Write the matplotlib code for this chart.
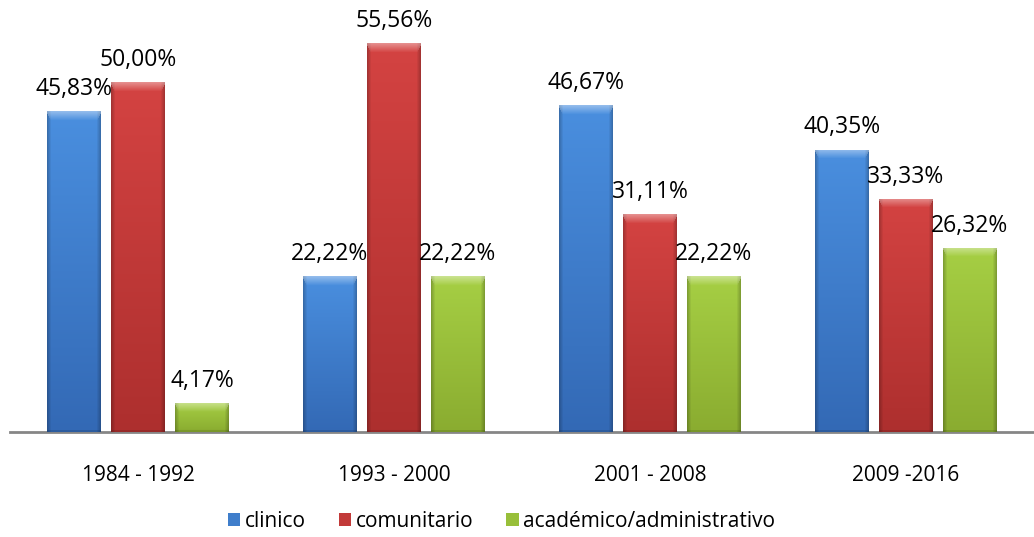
import numpy as np
import matplotlib.pyplot as plt
from matplotlib.colors import to_rgb

periodos = ['1984 - 1992', '1993 - 2000', '2001 - 2008', '2009 -2016']
series = ['clinico', 'comunitario', 'académico/administrativo']
clinico = [45.83, 22.22, 46.67, 40.35]
comunitario = [50.00, 55.56, 31.11, 33.33]
academico = [4.17, 22.22, 22.22, 26.32]
colores = ['#3f7ecb', '#c23a39', '#98bf3a']
arriba = ['#4a8fdf', '#d44342', '#a6cf44']
abajo = ['#3369b5', '#ad2f2e', '#8aac30']

plt.rcParams['font.family'] = ['Open Sans', 'DejaVu Sans']

fig = plt.figure(figsize=(10.34, 5.37), dpi=100)
ax = fig.add_axes([10 / 1034, 105 / 537, 1 - 10 / 1034, 420 / 537])

x = np.arange(len(periodos))
w = 0.21
paso = 0.25
px_por_unidad = 420 / 60


def biselar(ax, barras, c_arriba, c_abajo):
    ca = np.array(to_rgb(c_arriba))
    cb = np.array(to_rgb(c_abajo))
    for b in barras:
        x0, h, bw = b.get_x(), b.get_height(), b.get_width()
        ny = max(int(h * px_por_unidad), 2)
        nx = 54
        s = np.linspace(0, 1, ny)[:, None]
        img = (ca[None, :] * (1 - s) + cb[None, :] * s)[:, None, :] * np.ones((1, nx, 1))
        # bordes laterales mas oscuros
        t = np.linspace(-1, 1, nx)
        lado = 1 - 0.22 * np.clip((np.abs(t) - 0.85) / 0.15, 0, 1)
        img *= lado[None, :, None]
        # brillo superior en forma de trapecio
        top = min(9, ny // 2)
        for i in range(top):
            f = 0.4 * (1 - i / top)
            borde = int(nx * 0.08 * i / max(top, 1))
            img[i, borde:nx - borde] += (1 - img[i, borde:nx - borde]) * f
        # borde inferior oscuro
        img[-2:] *= 0.88
        img = np.clip(img, 0, 1)
        im = ax.imshow(img, extent=(x0, x0 + bw, 0, h), aspect='auto',
                       zorder=3, interpolation='bilinear')
        im.set_clip_path(b)


for k, (vals, nombre) in enumerate(zip([clinico, comunitario, academico], series)):
    barras = ax.bar(x + (k - 1) * paso, vals, w, color=colores[k], label=nombre,
                    zorder=2, edgecolor='none')
    biselar(ax, barras, arriba[k], abajo[k])
    for b, v in zip(barras, vals):
        ax.text(b.get_x() + b.get_width() / 2, v + 2.3,
                f'{v:.2f}%'.replace('.', ','), ha='center', va='baseline',
                fontsize=16.5, color='#000000', zorder=5, clip_on=False)

ax.set_xlim(-0.5, len(periodos) - 0.5)
ax.set_ylim(0, 60)
ax.set_xticks(x)
ax.set_xticklabels(periodos, fontsize=15)
ax.tick_params(axis='x', length=0, pad=24)
ax.set_yticks([])
for s in ['top', 'right', 'left']:
    ax.spines[s].set_visible(False)
ax.spines['bottom'].set_color('#868686')
ax.spines['bottom'].set_linewidth(2)

fig.legend(loc='lower center', bbox_to_anchor=(0.485, -0.025), ncol=3, frameon=False,
           fontsize=15, handlelength=0.6, handleheight=0.6, handletextpad=0.2,
           columnspacing=1.6)

fig.savefig('out.png', dpi=100)
